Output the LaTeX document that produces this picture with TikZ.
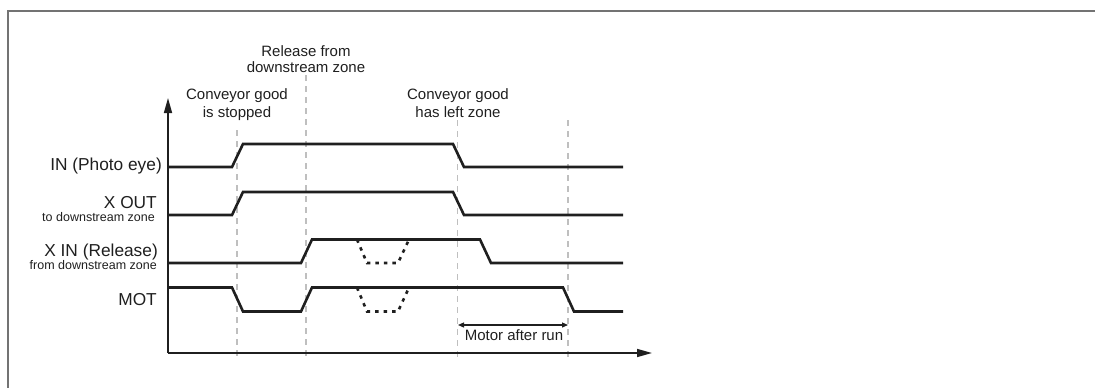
\documentclass[tikz,border=0pt]{standalone}
\usepackage{fontspec}
\setmainfont{Liberation Sans}
\usetikzlibrary{arrows.meta}
\begin{document}
\begin{tikzpicture}[x=1pt,y=-1pt,
  sig/.style={line width=2.6pt, color=black!88, line join=miter},
  dip/.style={line width=2.6pt, color=black!88, dash pattern=on 3.5pt off 5pt},
  guide/.style={line width=1.3pt, black!25, dash pattern=on 6pt off 5pt},
  axis/.style={line width=1.6pt, color=black!88, -{Triangle[length=15pt,width=8pt]}},
  lbl/.style={font=\fontsize{17.3}{20}\selectfont, inner sep=0pt, anchor=base east, text=black!88},
  sublbl/.style={font=\fontsize{12.5}{14}\selectfont, inner sep=0pt, anchor=base east, text=black!88},
  note/.style={font=\fontsize{15}{16.3}\selectfont, inner sep=0pt, align=center, anchor=north, text=black!88},
  notewide/.style={note, font=\fontsize{15}{18}\selectfont}]
\useasboundingbox (0,0) rectangle (1095,388);
% frame
\draw[black!55, line width=1.6pt] (1095,11) -- (8,11) -- (8,388);
% guides
\draw[guide] (237,130) -- (237,360);
\draw[guide] (306,75) -- (306,360);
\draw[guide] (457.5,120) -- (457.5,360);
\draw[guide] (568,120) -- (568,360);
% axes
\coordinate (O) at (168,353);
\coordinate (ytip) at (168,98);
\coordinate (xtip) at (652,353);
\draw[axis] (O) -- (ytip);
\draw[axis] (O) -- (xtip);
% signals
\draw[sig] (168,167) -- (232,167) -- (243,144) -- (453,144) -- (464,167) -- (623,167);
\draw[sig] (168,215) -- (232,215) -- (243,192) -- (453,192) -- (464,215) -- (623,215);
\draw[sig] (168,263) -- (301,263) -- (312,239.5) -- (480,239.5) -- (491,263) -- (623,263);
\draw[dip] (357,239.5) -- (367,263) -- (398,263) -- (409,239.5);
\draw[sig] (168,287.5) -- (232,287.5) -- (243,311.5) -- (301,311.5) -- (312,287.5) -- (563,287.5) -- (574,311.5) -- (623,311.5);
\draw[dip] (357,287.5) -- (367,311.5) -- (398,311.5) -- (409,287.5);
% motor after run
\coordinate (ma) at (458,325);
\coordinate (mb) at (568,325);
\draw[line width=1.2pt, black!88, {Triangle[length=6pt,width=5pt]}-{Triangle[length=6pt,width=5pt]}] (ma) -- (mb);
\node[font=\fontsize{15}{16}\selectfont, inner sep=0pt, anchor=base, text=black!88] (mar) at (514,340.7) {Motor after run};
% top notes
\node[note] (rel) at (306,45) {Release from\\downstream zone};
\node[notewide] (stop) at (237,88.3) {Conveyor good\\is stopped};
\node[notewide] (left) at (458,88.3) {Conveyor good\\has left zone};
% left labels
\node[lbl] (in) at (162,170) {IN (Photo eye)};
\node[lbl] (xout) at (157,208.5) {X OUT};
\node[sublbl] (xoutsub) at (155,221) {to downstream zone};
\node[lbl] (xin) at (158,256.3) {X IN (Release)};
\node[sublbl] (xinsub) at (157,269.5) {from downstream zone};
\node[lbl] (mot) at (157,305) {MOT};
\end{tikzpicture}
\end{document}
